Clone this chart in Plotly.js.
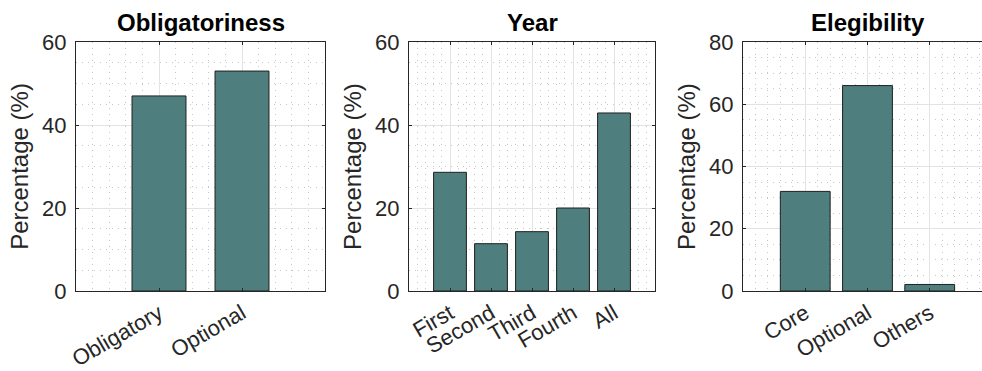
<!DOCTYPE html>
<html>
<head>
<meta charset="utf-8">
<script src="https://cdn.plot.ly/plotly-3.0.1.min.js"></script>
<style>html,body{margin:0;padding:0;background:#fff}#chart{width:982px;height:371px}</style>
</head>
<body>
<div id="chart"></div>
<script>
// ---- data ----
const titles = ["Obligatoriness", "Year", "Elegibility"];
const oblCategories = ["Obligatory", "Optional"];
const oblValues = [47.0, 53.0];
const yearCategories = ["First", "Second", "Third", "Fourth", "All"];
const yearValues = [28.6, 11.4, 14.3, 20.0, 42.9];
const eligCategories = ["Core", "Optional", "Others"];
const eligValues = [32.0, 66.0, 2.1];
const yTickVals12 = [0, 20, 40, 60];
const yTickVals3 = [0, 20, 40, 60, 80];
const yLabel = "Percentage (%)";

// ---- styling ----
const barColor = "#4e7f7e";
const edgeColor = "#1f1f1f";
const axisColor = "#262626";
const fontFam = "Liberation Sans, Arial, Helvetica, sans-serif";

function positions(cats){ return cats.map((c,i)=>i+1); }

function bar(cats, vals, w, xa, ya){
  return {type:"bar", x:positions(cats), y:vals, width:w, xaxis:xa, yaxis:ya,
    marker:{color:barColor, line:{color:edgeColor, width:1}}, hoverinfo:"x+y", showlegend:false};
}

const data = [
  bar(oblCategories, oblValues, 0.65, "x", "y"),
  bar(yearCategories, yearValues, 0.8, "x2", "y2"),
  bar(eligCategories, eligValues, 0.8, "x3", "y3")
];

const minorStyle = {showgrid:true, gridcolor:"#c8c8c8", griddash:"1px,5px", gridwidth:1, ticks:""};

function xAxis(cats, range, domain, anchor, mirror){
  return {domain:domain, anchor:anchor, range:range, tickmode:"array",
    tickvals:positions(cats), ticktext:cats, tickangle:-30,
    showline:true, linecolor:axisColor, linewidth:1, mirror:mirror,
    ticks:"inside", ticklen:3, tickcolor:axisColor,
    showgrid:true, gridcolor:"#e3e3e3", gridwidth:1, zeroline:false,
    tickfont:{family:fontFam, size:22, color:axisColor},
    minor:Object.assign({dtick:0.2, tick0:0}, minorStyle),
    fixedrange:true};
}
function yAxis(tv, range, domain, anchor, mirror){
  return {domain:domain, anchor:anchor, range:range, tickmode:"array", tickvals:tv,
    showline:true, linecolor:axisColor, linewidth:1, mirror:mirror,
    ticks:"inside", ticklen:3, tickcolor:axisColor,
    showgrid:true, gridcolor:"#e3e3e3", gridwidth:1, zeroline:false,
    tickfont:{family:fontFam, size:22, color:axisColor},
    ticklabelstandoff:4,
    title:{text:yLabel, font:{family:fontFam, size:24, color:axisColor}, standoff:6},
    minor:Object.assign({dtick:5, tick0:0}, minorStyle),
    fixedrange:true};
}

const yDom = [80/371, 329/371];
const layout = {
  width:982, height:371, margin:{l:0, r:0, t:0, b:0},
  paper_bgcolor:"#ffffff", plot_bgcolor:"#ffffff",
  bargap:0,
  xaxis: xAxis(oblCategories, [0,3], [76/982, 325/982], "y", "allticks"),
  yaxis: yAxis(yTickVals12, [0,60], yDom, "x", "allticks"),
  xaxis2: xAxis(yearCategories, [0,6], [409/982, 655/982], "y2", "allticks"),
  yaxis2: yAxis(yTickVals12, [0,60], yDom, "x2", "allticks"),
  xaxis3: xAxis(eligCategories, [0,3.84], [743/982, 1], "y3", "allticks"),
  yaxis3: yAxis(yTickVals3, [0,80], yDom, "x3", false),
  annotations: titles.map((t,i)=>{
    const doms = [[76,325],[409,655],[743,992]];
    return {text:"<b>"+t+"</b>", xref:"paper", yref:"paper",
      x:(doms[i][0]+doms[i][1])/2/982, y:1-22/371, xanchor:"center", yanchor:"middle",
      showarrow:false, font:{family:fontFam, size:24, color:"#000000"}};
  })
};

Plotly.newPlot("chart", data, layout, {displayModeBar:false, staticPlot:true});
</script>
</body>
</html>
